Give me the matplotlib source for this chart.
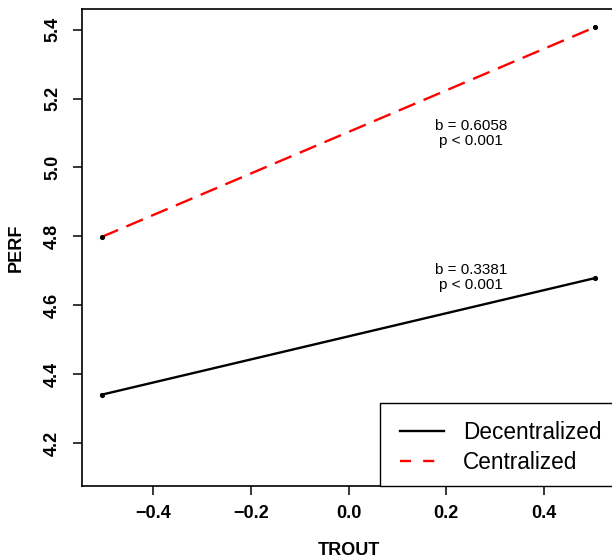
import matplotlib
matplotlib.use("Agg")
import matplotlib.pyplot as plt
from matplotlib.lines import Line2D
from matplotlib.patches import Rectangle

plt.rcParams['font.family'] = ['Liberation Sans', 'DejaVu Sans']

# simple slopes of PERF on TROUT
trout = [-0.505, 0.505]
perf_decentral = [4.340, 4.679]
perf_central = [4.798, 5.408]

labels = ["Decentralized", "Centralized"]
notes = ["b = 0.6058\np < 0.001", "b = 0.3381\np < 0.001"]
note_x = [0.251, 0.251]
note_y = [5.099, 4.681]

xticks = [-0.4, -0.2, 0.0, 0.2, 0.4]
yticks = [4.2, 4.4, 4.6, 4.8, 5.0, 5.2, 5.4]

fig = plt.figure(figsize=(6.12, 5.6), dpi=100)
ax = fig.add_axes([82/612, 1 - 486/560, (615 - 82)/612, (486 - 9)/560])

ax.plot(trout, perf_decentral, color='black', lw=1.7)
ax.plot(trout, perf_central, color='red', lw=1.7, dashes=(7.6, 3.8))
ax.plot(trout, perf_decentral, 'o', color='black', ms=2.7)
ax.plot(trout, perf_central, 'o', color='black', ms=2.7)

for x, y, s in zip(note_x, note_y, notes):
    ax.text(x, y, s, ha='center', va='center', fontsize=11, linespacing=1.1)

ax.set_xlim(-0.545, 0.545)
ax.set_ylim(4.075, 5.46)
ax.set_xticks(xticks)
ax.set_yticks(yticks)
ax.set_xticklabels(['\u22120.4', '\u22120.2', '0.0', '0.2', '0.4'],
                   fontsize=13, fontweight='bold')
ax.set_yticklabels(['%.1f' % v for v in yticks], fontsize=13,
                   fontweight='bold', rotation=90, va='center')
ax.tick_params(axis='x', length=6.5, width=1.1, pad=7)
ax.tick_params(axis='y', length=6.5, width=1.1, pad=8.5)
for side in ['left', 'bottom', 'top']:
    ax.spines[side].set_linewidth(1.2)
ax.spines['right'].set_visible(False)

ax.set_xlabel('TROUT', fontsize=13, fontweight='bold')
ax.set_ylabel('PERF', fontsize=13, fontweight='bold')
ax.xaxis.set_label_coords(0.5, -0.117)
ax.yaxis.set_label_coords(-0.107, 0.5)

# legend box runs past the right edge of the figure, as in the original
ax.add_patch(Rectangle(((380 - 82)/533, 0), 0.6, (486 - 403)/477,
                       transform=ax.transAxes, facecolor='white',
                       edgecolor='black', lw=1.0, clip_on=False, zorder=4))
h1 = Line2D([], [], color='black', lw=1.7)
h2 = Line2D([], [], color='red', lw=1.7, dashes=(4.7, 5.1))
leg = ax.legend([h1, h2], labels, loc='lower left',
                bbox_to_anchor=((386 - 82)/533, -0.004), borderaxespad=0,
                fontsize=16.3, frameon=False, handlelength=1.95,
                handletextpad=0.82, borderpad=0.62, labelspacing=0.3)
leg.set_zorder(5)

fig.savefig('out.png', dpi=100)
